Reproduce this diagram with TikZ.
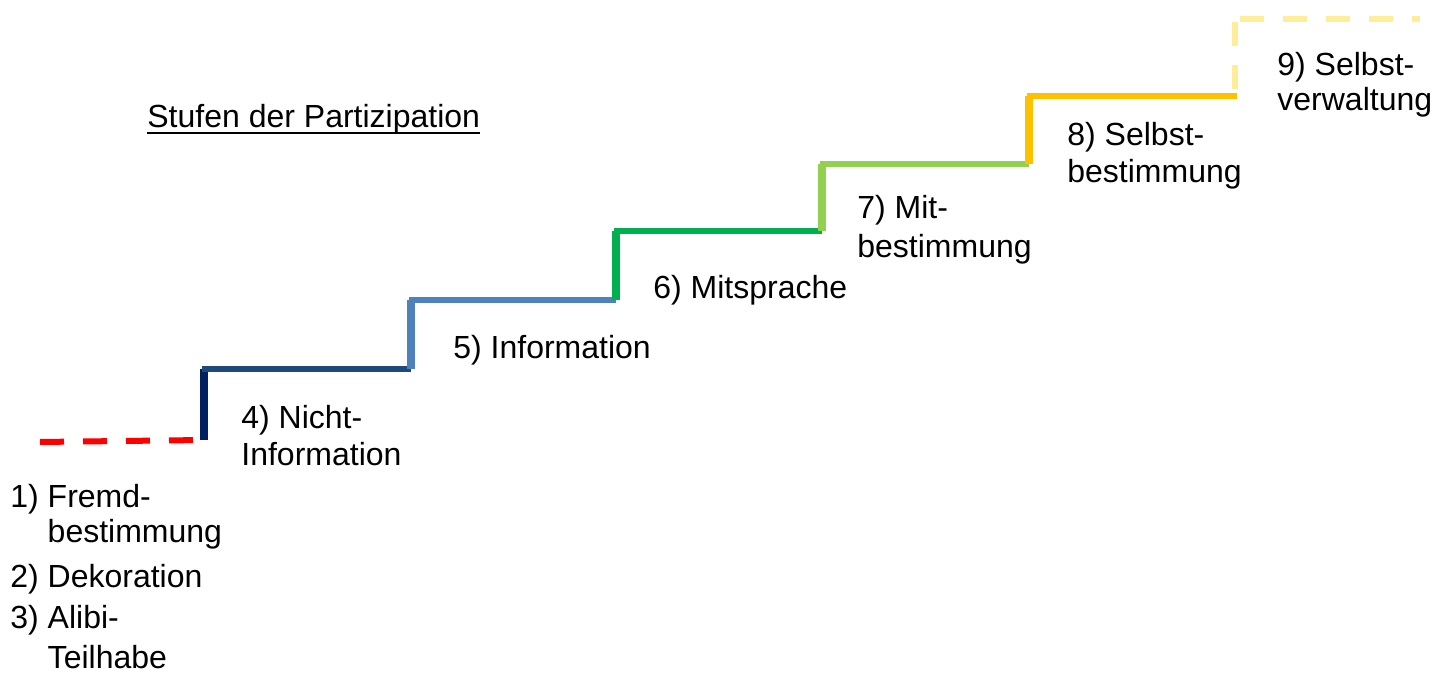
\documentclass[tikz,border=0pt]{standalone}
\usepackage{fontspec}
\setmainfont{Liberation Sans}
\usepackage{xcolor}

\definecolor{stepred}{HTML}{FF0000}
\definecolor{stepnavy}{HTML}{002060}
\definecolor{stepdark}{HTML}{1F497D}
\definecolor{stepblue}{HTML}{4F81BD}
\definecolor{stepgreen}{HTML}{00B050}
\definecolor{steplime}{HTML}{92D050}
\definecolor{steporange}{HTML}{FFC000}
\definecolor{stepyellow}{HTML}{FFEE99}

\begin{document}
\begin{tikzpicture}[
  x=0.5pt, y=-0.5pt,
  riser/.style={line width=4pt},
  tread/.style={line width=3.2pt},
  openstep/.style={line width=3pt, dash pattern=on 12pt off 9.5pt},
  steptext/.style={anchor=north west, inner sep=0pt, align=left,
    font=\fontsize{16}{18.5}\selectfont}
]
\useasboundingbox (0,0) rectangle (1440,673);

% corners of the stairs
\coordinate (s0) at (40,442);
\coordinate (f4) at (204,440);
\coordinate (t4) at (204,369);
\coordinate (f5) at (411,369);
\coordinate (t5) at (411,300);
\coordinate (f6) at (616,300);
\coordinate (t6) at (616,231);
\coordinate (f7) at (822,231);
\coordinate (t7) at (822,164);
\coordinate (f8) at (1029,164);
\coordinate (t8) at (1029,96);
\coordinate (f9) at (1235,96);
\coordinate (t9) at (1235,19);
\coordinate (e9) at (1420,19);

% steps
\draw[openstep, stepred] (s0) -- (f4);
\draw[riser, stepnavy] (f4) -- (t4);
\draw[tread, stepdark] ([xshift=-1pt]t4) -- (f5);
\draw[riser, stepblue] (f5) -- (t5);
\draw[tread, stepblue] ([xshift=-1pt]t5) -- (f6);
\draw[riser, stepgreen] (f6) -- (t6);
\draw[tread, stepgreen] ([xshift=-1pt]t6) -- (f7);
\draw[riser, steplime] (f7) -- (t7);
\draw[tread, steplime] ([xshift=-1pt]t7) -- (f8);
\draw[riser, steporange] (f8) -- (t8);
\draw[tread, steporange] ([xshift=-1pt]t8) -- ([xshift=1pt]f9);
\draw[openstep, stepyellow] ([yshift=-1.5pt]t9) -- (f9);
\draw[openstep, stepyellow] ([xshift=2.5pt]t9) -- (e9);

% texts
\node[steptext] (title) at (147,103.5) {Stufen der Partizipation};
\draw[line width=1.2pt] ([yshift=0.5pt]title.south west) -- ([yshift=0.5pt]title.south east);

\node[steptext] (low) at (10,483.5)
  {1) Fremd-\\[-1pt]\phantom{1) }bestimmung\\[4pt]2) Dekoration\\[2pt]3) Alibi-\\[1.5pt]\phantom{3) }Teilhabe};
\node[steptext] (nicht) at (241,404.5) {4) Nicht-\\Information};
\node[steptext] (info) at (453,334.5) {5) Information};
\node[steptext] (sprache) at (653,274.5) {6) Mitsprache};
\node[steptext] (mit) at (857,194.5) {7) Mit-\\[1pt]bestimmung};
\node[steptext] (selbst) at (1067,121.5) {8) Selbst-\\bestimmung};
\node[steptext] (verw) at (1277,51.5) {9) Selbst-\\[-1pt]verwaltung};
\end{tikzpicture}
\end{document}
